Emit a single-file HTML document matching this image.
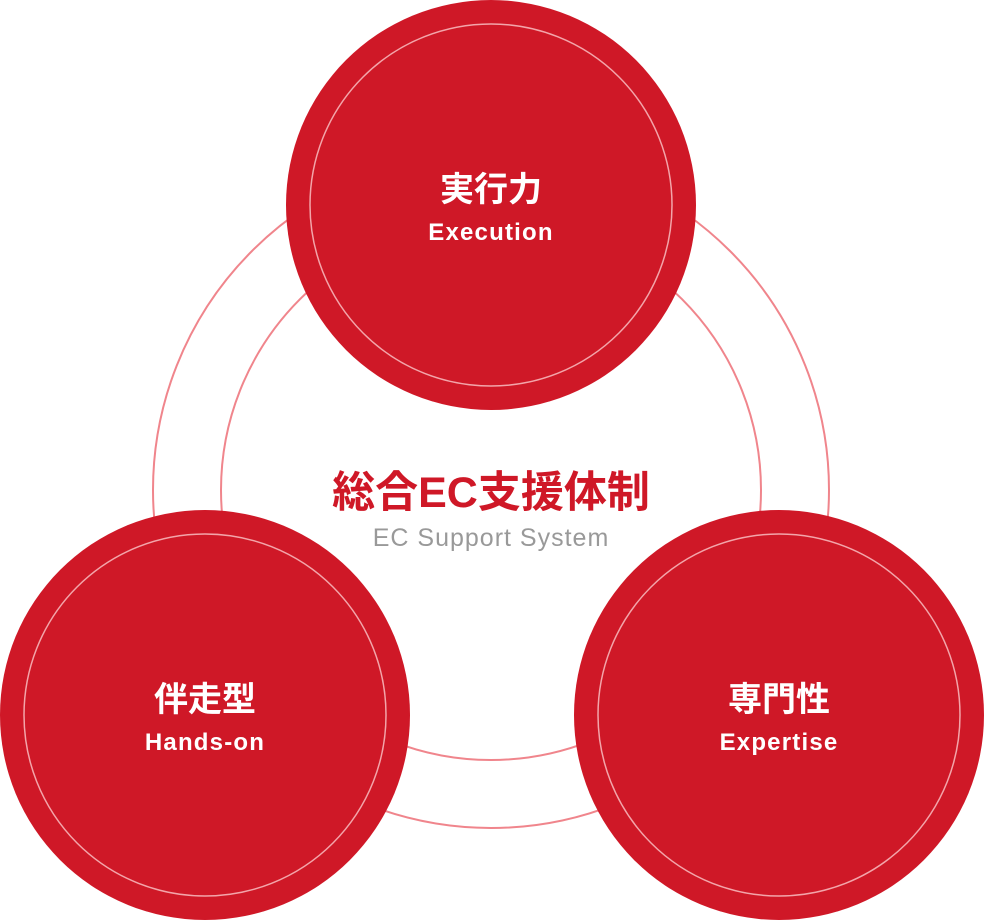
<!DOCTYPE html>
<html><head><meta charset="utf-8"><style>
html,body{margin:0;padding:0;background:#fff;}
body{width:984px;height:920px;position:relative;overflow:hidden;font-family:"Liberation Sans","Noto Sans CJK JP",sans-serif;}
.t{position:absolute;text-align:center;width:400px;font-weight:bold;}
.e{font-size:24px;letter-spacing:1.2px;}
</style></head><body>
<svg width="984" height="920" style="position:absolute;left:0;top:0">
<circle cx="491" cy="490" r="338" fill="none" stroke="#f0858c" stroke-width="2"/>
<circle cx="491" cy="490" r="270" fill="none" stroke="#f0858c" stroke-width="2"/>
<g fill="#cf1827" stroke="none">
<circle cx="491" cy="205" r="205"/>
<circle cx="205" cy="715" r="205"/>
<circle cx="779" cy="715" r="205"/>
</g>
<g fill="none" stroke="#f3a5aa" stroke-width="1.5">
<circle cx="491" cy="205" r="181"/>
<circle cx="205" cy="715" r="181"/>
<circle cx="779" cy="715" r="181"/>
</g>
</svg>
<div class="t" style="left:291px;top:162px;color:#fff;font-size:34px;">実行力</div>
<div class="t e" style="left:291px;top:219px;color:#fff;">Execution</div>
<div class="t" style="left:5px;top:672px;color:#fff;font-size:34px;">伴走型</div>
<div class="t e" style="left:5px;top:729px;color:#fff;">Hands-on</div>
<div class="t" style="left:579px;top:672px;color:#fff;font-size:34px;">専門性</div>
<div class="t e" style="left:579px;top:729px;color:#fff;">Expertise</div>
<div class="t" style="left:241px;top:458px;width:500px;color:#cf1827;font-size:43px;">総合EC支援体制</div>
<div class="t" style="left:241px;top:524px;width:500px;color:#999;font-size:25px;letter-spacing:1px;font-weight:normal;">EC Support System</div>
</body></html>
